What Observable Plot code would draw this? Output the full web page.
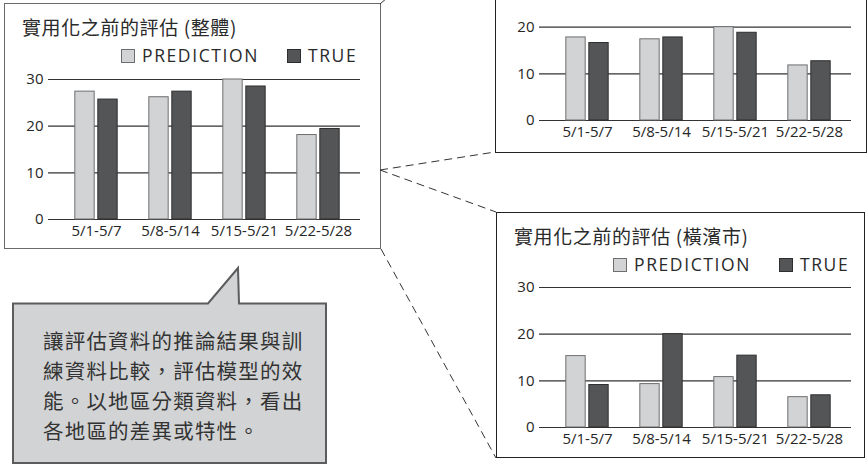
<!DOCTYPE html>
<html>
<head>
<meta charset="utf-8">
<script src="https://cdn.jsdelivr.net/npm/d3@7"></script>
<script src="https://cdn.jsdelivr.net/npm/@observablehq/plot@0.6"></script>
<style>
  html, body { margin: 0; padding: 0; background: #fff; }
  #page { position: relative; width: 867px; height: 464px; overflow: hidden; background: #fff; }
  .box { position: absolute; box-sizing: border-box; background: #fff; }
  .title { position: absolute; font-family: "Noto Sans CJK TC", "Noto Sans", sans-serif; font-size: 19px; color: #2a2a2a; white-space: nowrap; line-height: 1; letter-spacing: 0.6px; }
  .legend { position: absolute; font-family: "Open Sans", "Noto Sans", sans-serif; font-size: 17.5px; color: #2a2a2a; white-space: nowrap; display: flex; align-items: center; letter-spacing: 1.6px; line-height: 1; }
  .swatch { display: inline-block; width: 14px; height: 14px; box-sizing: border-box; margin-right: 7px; }
  .chart { position: absolute; }
  .note { position: absolute; font-family: "Noto Sans CJK TC", sans-serif; font-size: 20.5px; letter-spacing: 1.2px; line-height: 30px; color: #333; white-space: nowrap; }
  svg.overlay { position: absolute; left: 0; top: 0; }
</style>
</head>
<body>
<div id="page"></div>
<script>
// Weekly evaluation: model prediction vs. actual counts
const weeks = ["5/1-5/7", "5/8-5/14", "5/15-5/21", "5/22-5/28"];
const seriesNames = ["PREDICTION", "TRUE"];
const yTicks = [0, 10, 20, 30];

// overall
const overallPred = [27.4, 26.2, 30.0, 18.1];
const overallTrue = [25.7, 27.4, 28.5, 19.4];
// second region (its header sits above the page edge)
const regionPred = [17.8, 17.4, 20.0, 11.8];
const regionTrue = [16.6, 17.8, 18.8, 12.7];
// Yokohama
const yokohamaPred = [15.3, 9.3, 10.8, 6.5];
const yokohamaTrue = [9.1, 20.0, 15.4, 6.9];

const titleOverall = "實用化之前的評估 (整體)";
const titleYokohama = "實用化之前的評估 (橫濱市)";
const noteLines = [
  "讓評估資料的推論結果與訓",
  "練資料比較，評估模型的效",
  "能。以地區分類資料，看出",
  "各地區的差異或特性。"
];

const predFill = "#d2d3d5", predStroke = "#6e6e6e";
const trueFill = "#545557", trueStroke = "#2e2e2e";

const page = document.getElementById("page");

function panel({box, frame, border, title, pred, actual, labelTicks}) {
  const b = document.createElement("div");
  b.className = "box";
  Object.assign(b.style, {
    left: box.x + "px", top: box.y + "px", width: box.w + "px", height: box.h + "px",
    border: `1.5px solid ${border}`
  });
  page.appendChild(b);

  if (title) {
    const t = document.createElement("div");
    t.className = "title";
    t.textContent = title;
    Object.assign(t.style, {left: (box.x + 18) + "px", top: (box.y + 14) + "px"});
    page.appendChild(t);

    const lg = document.createElement("div");
    lg.className = "legend";
    Object.assign(lg.style, {left: (box.x + 117) + "px", top: (box.y + 44) + "px"});
    lg.innerHTML =
      `<span class="swatch" style="background:${predFill};border:1px solid ${predStroke}"></span>${seriesNames[0]}` +
      `<span class="swatch" style="background:${trueFill};border:1px solid ${trueStroke};margin-left:28px"></span>${seriesNames[1]}`;
    page.appendChild(lg);
  }

  const rows = weeks.map((w, i) => ({week: w, pred: pred[i], actual: actual[i]}));
  const mL = 44, mR = 6, mT = 10, mB = 30;
  const insetL = 9.2, insetR = 4.2;
  const band = (frame.w - insetL - insetR) / weeks.length;
  const barW = 20, gap = 3;
  const outer = band / 2 - gap / 2 - barW;   // band edge to outer bar edge
  const inner = band / 2 + gap / 2;           // band edge to inner bar edge

  const chart = Plot.plot({
    width: frame.w + mL + mR,
    height: frame.h + mT + mB,
    marginLeft: mL, marginRight: mR, marginTop: mT, marginBottom: mB,
    style: {fontFamily: "'Open Sans', 'Noto Sans', sans-serif", fontSize: "15px", color: "#262626", background: "transparent", overflow: "visible"},
    x: {domain: weeks, padding: 0, insetLeft: insetL, insetRight: insetR, tickSize: 0, tickPadding: 6, label: null},
    y: {domain: [0, 30], ticks: labelTicks, tickSize: 0, tickPadding: 5, label: null},
    marks: [
      Plot.ruleY(yTicks, {stroke: "#333", strokeWidth: 1.2}),
      Plot.barY(rows, {x: "week", y: "pred", fill: predFill, stroke: predStroke, strokeWidth: 1, insetLeft: outer, insetRight: inner}),
      Plot.barY(rows, {x: "week", y: "actual", fill: trueFill, stroke: trueStroke, strokeWidth: 1, insetLeft: inner, insetRight: outer})
    ]
  });
  chart.classList.add("chart");
  chart.style.left = (frame.x - mL) + "px";
  chart.style.top = (frame.y - mT) + "px";
  page.appendChild(chart);
}

panel({
  box: {x: 4, y: 3, w: 377, h: 246}, border: "#6a6a6a",
  frame: {x: 48, y: 79, w: 312, h: 140},
  title: titleOverall, pred: overallPred, actual: overallTrue, labelTicks: yTicks
});
panel({
  box: {x: 495, y: -95, w: 372, h: 248}, border: "#222",
  frame: {x: 539, y: -20, w: 312, h: 140},
  title: null, pred: regionPred, actual: regionTrue, labelTicks: yTicks.filter(v => v < 30)
});
panel({
  box: {x: 496, y: 212, w: 369, h: 246}, border: "#222",
  frame: {x: 539, y: 287, w: 312, h: 140},
  title: titleYokohama, pred: yokohamaPred, actual: yokohamaTrue, labelTicks: yTicks
});

// connectors and speech bubble
const ns = "http://www.w3.org/2000/svg";
const ov = document.createElementNS(ns, "svg");
ov.setAttribute("class", "overlay");
ov.setAttribute("width", 867);
ov.setAttribute("height", 464);
ov.innerHTML = `
  <g stroke="#333" stroke-width="1" stroke-dasharray="8 5" fill="none">
    <line x1="380" y1="4" x2="495" y2="-95"/>
    <line x1="380" y1="170" x2="495" y2="152"/>
    <line x1="380" y1="170" x2="496" y2="212"/>
    <line x1="381" y1="249" x2="496" y2="458"/>
  </g>
  <path d="M13,303.5 L208,303.5 L238,268 L239,303.5 L326,303.5 L326,463 L13,463 Z"
        fill="#d2d3d5" stroke="#5c5c5c" stroke-width="2" stroke-linejoin="miter"/>`;
page.appendChild(ov);

const note = document.createElement("div");
note.className = "note";
note.style.left = "43px";
note.style.top = "325px";
note.innerHTML = noteLines.map(l => `<div>${l}</div>`).join("");
page.appendChild(note);
</script>
</body>
</html>
